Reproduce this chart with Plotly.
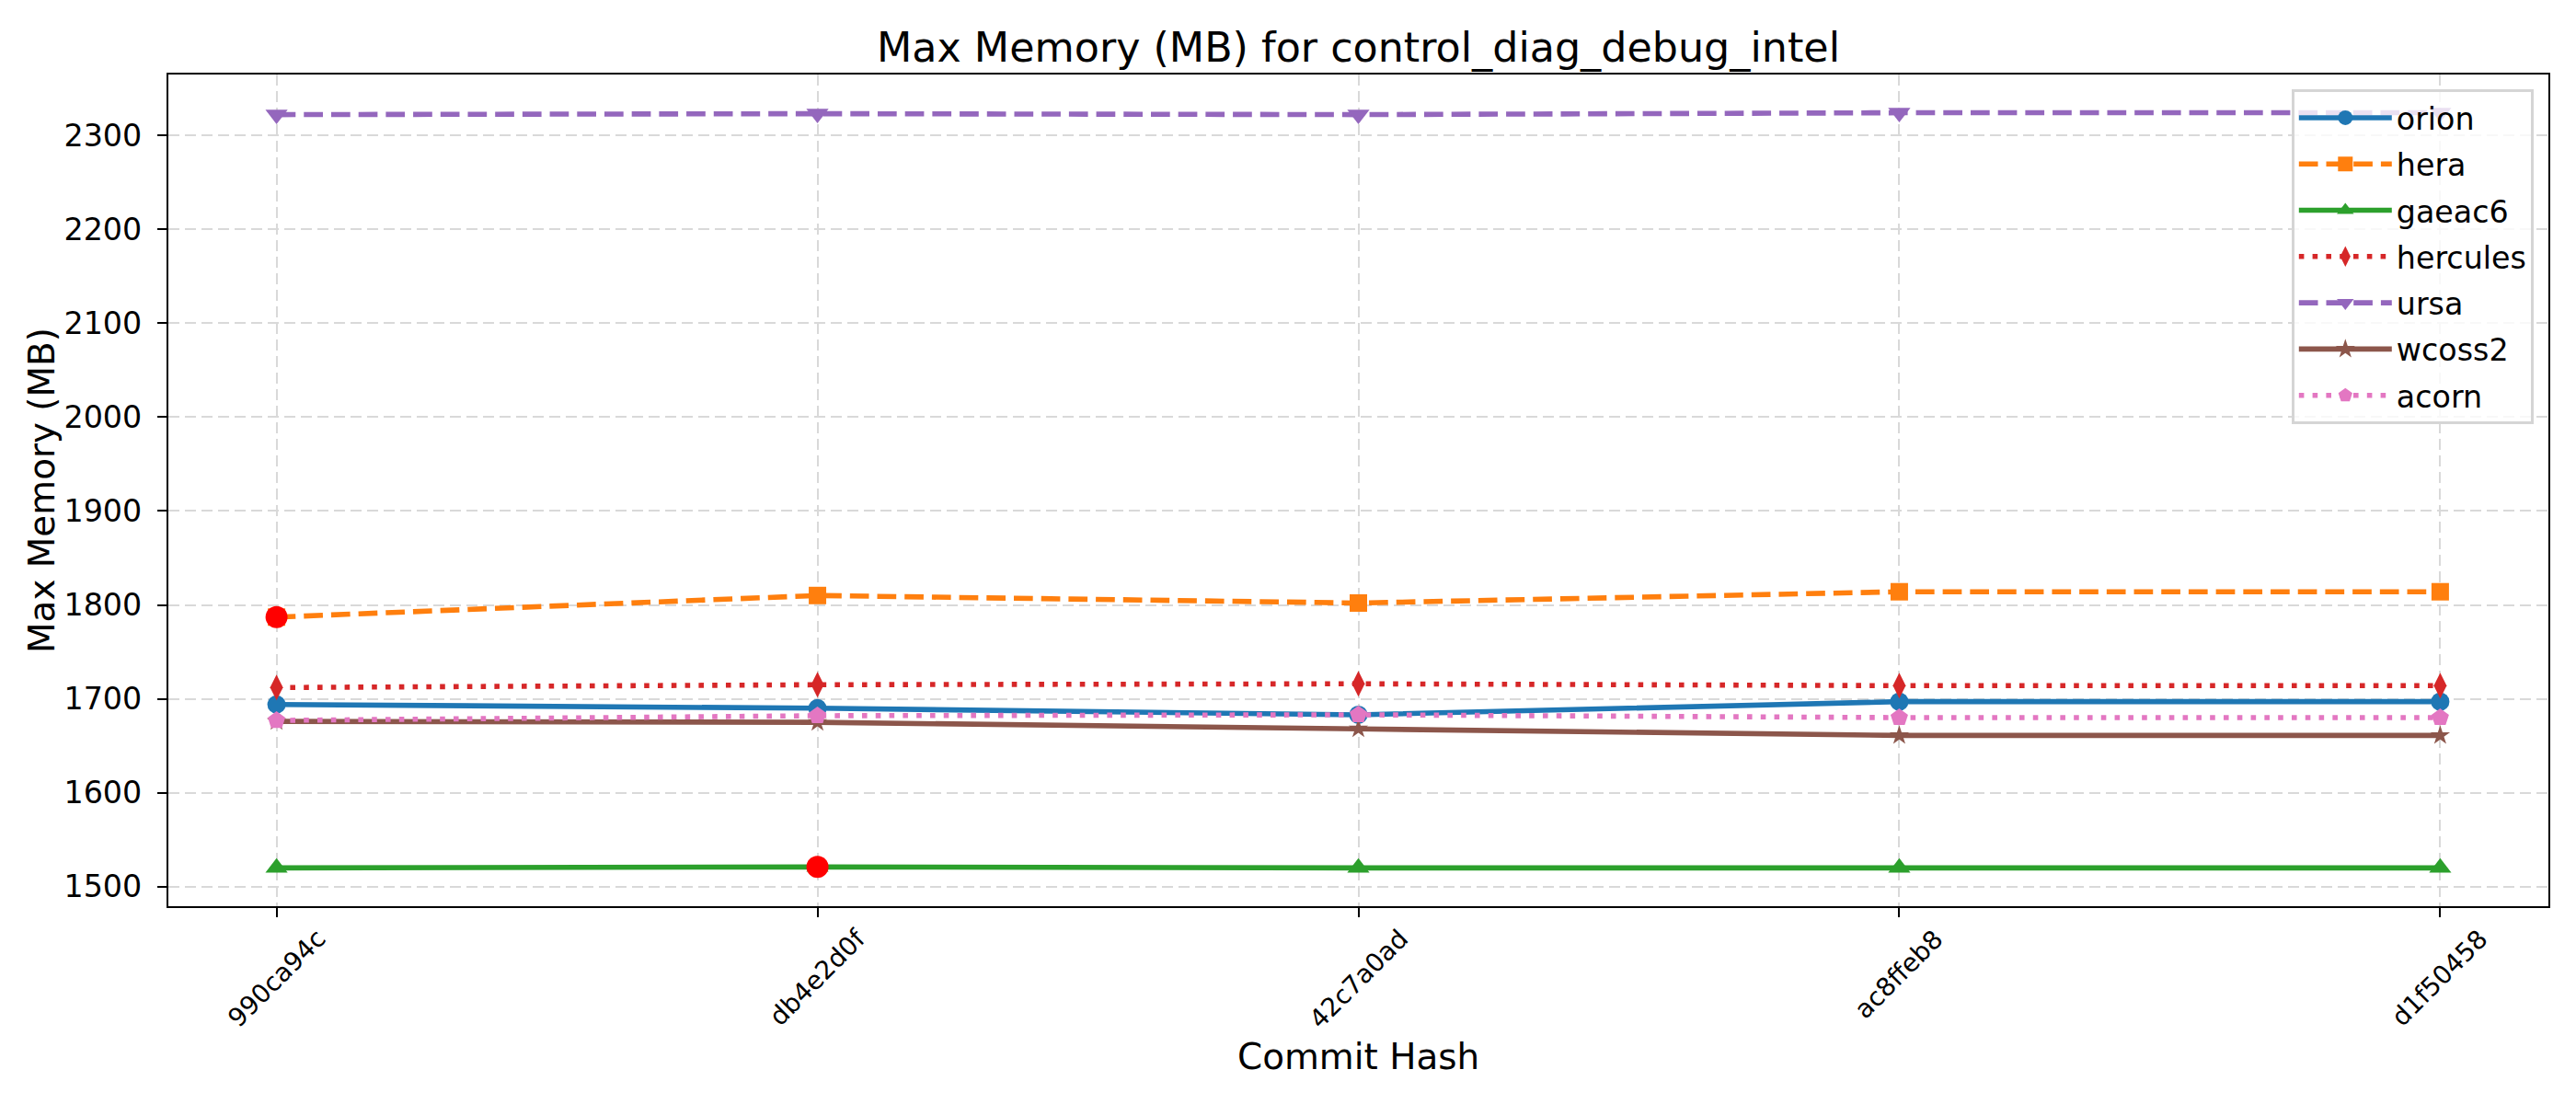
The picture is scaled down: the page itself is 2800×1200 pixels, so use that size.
import plotly.graph_objects as go

# ---- data ----
commits = ["990ca94c", "db4e2d0f", "42c7a0ad", "ac8ffeb8", "d1f50458"]
orion = [1694, 1690, 1683, 1697, 1697]
hera = [1787, 1810, 1802, 1814, 1814]
gaeac6 = [1520, 1521, 1520, 1520, 1520]
hercules = [1712, 1715, 1716, 1714, 1714]
ursa = [2322, 2323, 2322, 2324, 2324]
wcoss2 = [1676, 1675, 1668, 1661, 1661]
acorn = [1677, 1682, 1683, 1680, 1680]

series_names = ["orion", "hera", "gaeac6", "hercules", "ursa", "wcoss2", "acorn"]
series_values = [orion, hera, gaeac6, hercules, ursa, wcoss2, acorn]

# highlighted (flagged) points: (series, commit)
highlight_series = ["hera", "gaeac6"]
highlight_commits = ["990ca94c", "db4e2d0f"]

title_text = "Max Memory (MB) for control_diag_debug_intel"
x_label = "Commit Hash"
y_label = "Max Memory (MB)"

# ---- styles ----
colors = ["#1f77b4", "#ff7f0e", "#2ca02c", "#d62728", "#9467bd", "#8c564b", "#e377c2"]
DASHED = "20.7px,9px"
DOTTED = "5.6px,9.2px"
dashes = ["solid", DASHED, "solid", DOTTED, DASHED, "solid", DOTTED]
symbols = ["circle", "square", "triangle-up", "diamond-tall", "triangle-down", "star", "pentagon"]
msizes = [20, 19, 21, 20, 21, 16, 20]

FONT = "DejaVu Sans"

W, H = 2800, 1200
L, R, T, B = 183, 30, 81, 215
plot_h = H - T - B

fig = go.Figure()

for name, vals, c, d, s, ms in zip(series_names, series_values, colors, dashes, symbols, msizes):
    fig.add_trace(go.Scatter(
        x=commits, y=vals, name=name, mode="lines+markers", legendgroup=name,
        line=dict(color=c, width=5.6, dash=d),
        marker=dict(symbol=s, size=ms, color=c, line=dict(width=0)),
    ))

lookup = dict(zip(series_names, series_values))
hx, hy = [], []
for sname, cm in zip(highlight_series, highlight_commits):
    hx.append(cm)
    hy.append(lookup[sname][commits.index(cm)])
fig.add_trace(go.Scatter(
    x=hx, y=hy, mode="markers", showlegend=False,
    marker=dict(symbol="circle", size=24, color="#ff0000", line=dict(width=0)),
))

annotations = []
for cm in commits:
    annotations.append(dict(
        x=cm, xref="x", y=0, yref="paper", text=cm, showarrow=False,
        textangle=-45, xanchor="center", yanchor="top", yshift=-16,
        font=dict(family=FONT, size=27.8, color="black"),
    ))
annotations.append(dict(
    x=0.5, xref="paper", y=-(1148 - (H - B)) / plot_h, yref="paper",
    text=x_label, showarrow=False, xanchor="center", yanchor="middle",
    font=dict(family=FONT, size=38.9, color="black"),
))
annotations.append(dict(
    x=(45 - L) / (W - L - R), xref="paper", y=0.5, yref="paper",
    text=y_label, showarrow=False, textangle=-90, xanchor="center", yanchor="middle",
    font=dict(family=FONT, size=38.9, color="black"),
))

grid = dict(showgrid=True, gridcolor="#d9d9d9", gridwidth=2.2, griddash="12px,6px")

fig.update_layout(
    width=W, height=H,
    margin=dict(l=L, r=R, t=T, b=B, pad=0),
    paper_bgcolor="white", plot_bgcolor="white",
    font=dict(family=FONT, color="black"),
    title=dict(text=title_text, x=(L + (W - R)) / 2 / W, xanchor="center",
               xref="container", yref="container", y=1 - 67 / H, yanchor="bottom",
               font=dict(family=FONT, size=44.4, color="black")),
    xaxis=dict(type="category", range=[-0.2, 4.2], showticklabels=False,
               ticks="outside", ticklen=10, tickwidth=2.2, tickcolor="black",
               showline=True, linecolor="black", linewidth=2.2, mirror=True,
               zeroline=False, **grid),
    yaxis=dict(range=[1479.2, 2364.7], tickmode="array",
               tickvals=[1500, 1600, 1700, 1800, 1900, 2000, 2100, 2200, 2300],
               ticks="outside", ticklen=10, tickwidth=2.2, tickcolor="black",
               ticklabelstandoff=10,
               tickfont=dict(family=FONT, size=33.3, color="black"),
               showline=True, linecolor="black", linewidth=2.2, mirror=True,
               zeroline=False, **grid),
    legend=dict(x=(2754 - L) / (W - L - R), xanchor="right",
                y=(H - B - 97) / plot_h, yanchor="top",
                bgcolor="rgba(255,255,255,0.8)", bordercolor="#d5d5d5", borderwidth=2.8,
                font=dict(family=FONT, size=33.3, color="black"),
                itemwidth=101, tracegroupgap=4, traceorder="grouped"),
    annotations=annotations,
    showlegend=True,
)

fig.write_html("out.html")
